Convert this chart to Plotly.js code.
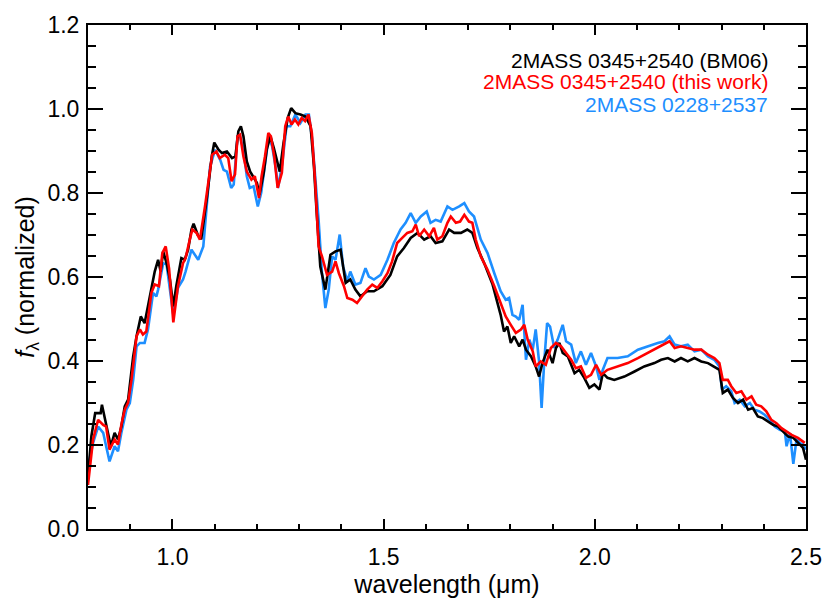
<!DOCTYPE html>
<html>
<head>
<meta charset="utf-8">
<script src="https://cdn.plot.ly/plotly-3.0.1.min.js"></script>
<style>
  html, body { margin: 0; padding: 0; background: #fff; }
  #chart { width: 830px; height: 600px; }
</style>
</head>
<body>
<div id="chart"></div>
<script>
// ---- data ----
var seriesNames = ["2MASS 0345+2540 (BM06)", "2MASS 0345+2540 (this work)", "2MASS 0228+2537"];
var seriesColors = ["#000000", "#ff0000", "#1e8fff"];

var waveBM06 = [0.800,0.808,0.817,0.830,0.833,0.840,0.847,0.854,0.863,0.871,0.879,0.887,0.895,0.907,0.915,0.925,0.934,0.946,0.958,0.966,0.972,0.978,0.986,0.994,1.002,1.009,1.021,1.029,1.037,1.045,1.050,1.060,1.068,1.082,1.093,1.099,1.109,1.117,1.129,1.141,1.149,1.156,1.162,1.168,1.176,1.184,1.192,1.200,1.206,1.216,1.223,1.232,1.240,1.248,1.254,1.263,1.273,1.281,1.291,1.303,1.315,1.327,1.335,1.341,1.350,1.362,1.374,1.386,1.398,1.410,1.421,1.433,1.445,1.461,1.477,1.497,1.516,1.532,1.548,1.564,1.580,1.596,1.611,1.623,1.639,1.655,1.667,1.683,1.698,1.710,1.722,1.738,1.758,1.777,1.785,1.793,1.801,1.809,1.821,1.829,1.837,1.849,1.860,1.868,1.876,1.888,1.900,1.908,1.916,1.924,1.936,1.952,1.963,1.975,1.987,1.999,2.011,2.019,2.030,2.046,2.070,2.094,2.117,2.141,2.157,2.173,2.189,2.204,2.220,2.236,2.252,2.268,2.283,2.295,2.303,2.315,2.327,2.339,2.351,2.363,2.374,2.386,2.398,2.410,2.422,2.434,2.446,2.458,2.470,2.481,2.493,2.500];
var fluxBM06 = [0.125,0.221,0.276,0.276,0.296,0.260,0.225,0.197,0.229,0.213,0.244,0.292,0.308,0.411,0.459,0.506,0.490,0.554,0.613,0.641,0.613,0.661,0.633,0.594,0.530,0.578,0.645,0.641,0.665,0.713,0.727,0.700,0.690,0.792,0.887,0.920,0.903,0.895,0.899,0.883,0.887,0.947,0.959,0.935,0.875,0.851,0.836,0.824,0.796,0.848,0.903,0.935,0.907,0.871,0.851,0.919,0.979,1.002,0.990,0.987,0.982,0.959,0.863,0.760,0.625,0.570,0.653,0.661,0.665,0.586,0.594,0.570,0.554,0.566,0.566,0.578,0.605,0.649,0.669,0.693,0.705,0.689,0.697,0.681,0.685,0.713,0.705,0.705,0.713,0.705,0.669,0.633,0.582,0.510,0.470,0.482,0.443,0.459,0.435,0.451,0.427,0.411,0.387,0.363,0.395,0.427,0.395,0.431,0.443,0.419,0.411,0.371,0.379,0.360,0.336,0.344,0.332,0.371,0.360,0.355,0.363,0.375,0.387,0.395,0.403,0.407,0.399,0.407,0.399,0.407,0.399,0.395,0.387,0.379,0.324,0.332,0.312,0.300,0.308,0.284,0.288,0.268,0.264,0.256,0.248,0.244,0.232,0.220,0.217,0.205,0.193,0.165];

var waveThis = [0.800,0.812,0.824,0.836,0.843,0.851,0.863,0.871,0.879,0.887,0.895,0.903,0.915,0.923,0.930,0.938,0.950,0.958,0.968,0.976,0.984,0.992,1.002,1.013,1.025,1.031,1.041,1.047,1.057,1.065,1.077,1.089,1.094,1.104,1.112,1.124,1.132,1.140,1.148,1.154,1.160,1.168,1.176,1.187,1.195,1.205,1.211,1.219,1.227,1.233,1.241,1.249,1.259,1.267,1.274,1.282,1.290,1.298,1.306,1.314,1.322,1.330,1.338,1.346,1.354,1.366,1.378,1.386,1.394,1.406,1.414,1.426,1.437,1.449,1.461,1.473,1.485,1.497,1.509,1.520,1.532,1.544,1.556,1.568,1.576,1.584,1.596,1.608,1.619,1.627,1.639,1.651,1.659,1.671,1.681,1.691,1.702,1.710,1.718,1.730,1.746,1.762,1.777,1.789,1.801,1.813,1.825,1.833,1.841,1.853,1.860,1.872,1.884,1.896,1.908,1.920,1.932,1.944,1.955,1.967,1.979,1.991,2.003,2.015,2.030,2.054,2.078,2.102,2.125,2.149,2.165,2.177,2.189,2.204,2.220,2.236,2.252,2.268,2.283,2.295,2.303,2.315,2.323,2.335,2.347,2.359,2.371,2.382,2.394,2.406,2.418,2.430,2.442,2.454,2.466,2.481,2.497];
var fluxThis = [0.105,0.213,0.260,0.248,0.244,0.189,0.213,0.201,0.248,0.284,0.301,0.355,0.459,0.475,0.463,0.470,0.562,0.582,0.578,0.657,0.673,0.620,0.492,0.578,0.633,0.645,0.689,0.713,0.705,0.689,0.768,0.863,0.891,0.899,0.883,0.891,0.883,0.828,0.844,0.935,0.939,0.887,0.851,0.832,0.840,0.788,0.840,0.887,0.943,0.935,0.887,0.812,0.848,0.959,0.982,0.963,0.975,0.963,0.979,0.971,0.987,0.943,0.824,0.673,0.649,0.605,0.613,0.637,0.609,0.578,0.550,0.546,0.538,0.554,0.570,0.582,0.574,0.590,0.609,0.637,0.681,0.693,0.705,0.709,0.725,0.697,0.713,0.697,0.717,0.689,0.697,0.729,0.744,0.729,0.732,0.748,0.732,0.729,0.689,0.649,0.617,0.578,0.536,0.506,0.486,0.467,0.475,0.486,0.451,0.423,0.387,0.399,0.391,0.431,0.443,0.435,0.419,0.403,0.383,0.387,0.360,0.367,0.391,0.367,0.379,0.387,0.395,0.407,0.419,0.431,0.439,0.447,0.431,0.435,0.431,0.427,0.427,0.415,0.407,0.395,0.355,0.355,0.340,0.324,0.328,0.308,0.316,0.296,0.292,0.280,0.260,0.252,0.240,0.232,0.224,0.217,0.205];

var wave0228 = [0.800,0.812,0.824,0.836,0.843,0.851,0.863,0.871,0.879,0.891,0.899,0.907,0.915,0.923,0.934,0.942,0.954,0.962,0.966,0.978,0.986,1.002,1.013,1.025,1.031,1.045,1.061,1.073,1.089,1.101,1.113,1.121,1.129,1.139,1.145,1.154,1.160,1.168,1.176,1.183,1.192,1.202,1.210,1.220,1.228,1.236,1.244,1.250,1.260,1.270,1.279,1.291,1.303,1.315,1.323,1.331,1.340,1.346,1.354,1.362,1.370,1.378,1.386,1.396,1.404,1.414,1.421,1.433,1.445,1.457,1.465,1.477,1.493,1.509,1.524,1.540,1.552,1.564,1.576,1.588,1.602,1.611,1.623,1.635,1.651,1.663,1.679,1.691,1.702,1.714,1.730,1.746,1.762,1.777,1.789,1.797,1.805,1.813,1.821,1.829,1.837,1.845,1.853,1.860,1.868,1.874,1.880,1.887,1.894,1.904,1.912,1.924,1.932,1.944,1.955,1.967,1.979,1.991,2.003,2.011,2.019,2.030,2.054,2.078,2.102,2.125,2.149,2.165,2.177,2.189,2.204,2.220,2.236,2.252,2.268,2.283,2.295,2.301,2.311,2.323,2.331,2.343,2.355,2.367,2.378,2.390,2.402,2.414,2.426,2.438,2.450,2.454,2.462,2.470,2.478,2.485,2.493,2.500];
var flux0228 = [0.149,0.205,0.244,0.229,0.197,0.161,0.197,0.185,0.229,0.284,0.300,0.355,0.435,0.443,0.443,0.475,0.562,0.554,0.570,0.633,0.630,0.510,0.574,0.594,0.613,0.665,0.641,0.673,0.863,0.903,0.879,0.855,0.851,0.812,0.820,0.935,0.935,0.903,0.840,0.812,0.816,0.768,0.800,0.871,0.935,0.911,0.863,0.812,0.871,0.959,0.959,0.987,0.967,0.987,0.987,0.927,0.820,0.736,0.609,0.526,0.570,0.649,0.641,0.701,0.625,0.590,0.613,0.582,0.586,0.621,0.601,0.594,0.605,0.641,0.681,0.713,0.729,0.752,0.729,0.744,0.756,0.729,0.736,0.732,0.768,0.760,0.768,0.776,0.756,0.744,0.689,0.657,0.609,0.566,0.546,0.550,0.510,0.506,0.498,0.534,0.403,0.451,0.427,0.475,0.399,0.288,0.395,0.490,0.482,0.431,0.451,0.486,0.447,0.439,0.395,0.423,0.391,0.419,0.387,0.355,0.379,0.407,0.407,0.411,0.427,0.435,0.443,0.447,0.459,0.439,0.435,0.439,0.423,0.427,0.411,0.403,0.387,0.332,0.340,0.328,0.300,0.308,0.292,0.300,0.284,0.280,0.272,0.260,0.244,0.236,0.232,0.197,0.228,0.155,0.217,0.205,0.201,0.189];

var xTickVals = [1.0, 1.5, 2.0, 2.5];
var yTickVals = [0.0, 0.2, 0.4, 0.6, 0.8, 1.0, 1.2];

// ---- chart ----
var FONT = '"Liberation Sans", Arial, Helvetica, sans-serif';

function trace(x, y, color, name) {
  return { x: x, y: y, type: 'scatter', mode: 'lines', name: name,
           line: { color: color, width: 2.6 }, hoverinfo: 'skip' };
}

var data = [
  trace(wave0228, flux0228, seriesColors[2], seriesNames[2]),
  trace(waveBM06, fluxBM06, seriesColors[0], seriesNames[0]),
  trace(waveThis, fluxThis, seriesColors[1], seriesNames[1])
];

var legendY = [0.929, 0.887, 0.843];
var annotations = seriesNames.map(function (n, i) {
  return { text: n, xref: 'paper', yref: 'paper', x: 0.950, y: legendY[i],
           xanchor: 'right', yanchor: 'middle', showarrow: false,
           font: { family: FONT, size: 21, color: seriesColors[i] } };
});

var layout = {
  width: 830, height: 600,
  margin: { l: 88, r: 24, t: 25, b: 71, pad: 0 },
  paper_bgcolor: '#ffffff', plot_bgcolor: '#ffffff',
  showlegend: false,
  font: { family: FONT, color: '#000' },
  xaxis: {
    range: [0.8, 2.5], autorange: false,
    tickmode: 'array', tickvals: xTickVals, tickformat: '.1f',
    ticks: 'inside', ticklen: 10, tickwidth: 2, tickcolor: '#000',
    minor: { dtick: 0.1, tick0: 0, ticks: 'inside', ticklen: 5, tickwidth: 2, tickcolor: '#000', showgrid: false },
    showline: true, linecolor: '#000', linewidth: 2, mirror: 'ticks',
    showgrid: false, zeroline: false,
    tickfont: { family: FONT, size: 23, color: '#000' },
    ticklabelstandoff: 6,
    title: { text: 'wavelength (μm)', font: { family: FONT, size: 25, color: '#000' }, standoff: 2 },
    automargin: false
  },
  yaxis: {
    range: [0, 1.2], autorange: false,
    tickmode: 'array', tickvals: yTickVals, tickformat: '.1f',
    ticks: 'inside', ticklen: 15, tickwidth: 2, tickcolor: '#000',
    minor: { dtick: 0.05, tick0: 0, ticks: 'inside', ticklen: 8, tickwidth: 2, tickcolor: '#000', showgrid: false },
    showline: true, linecolor: '#000', linewidth: 2, mirror: 'ticks',
    showgrid: false, zeroline: false,
    tickfont: { family: FONT, size: 23, color: '#000' },
    ticklabelstandoff: 2,
    title: { text: '<i>f</i><sub>λ</sub> (normalized)', font: { family: FONT, size: 25, color: '#000' }, standoff: 6 },
    automargin: false
  },
  annotations: annotations
};

Plotly.newPlot('chart', data, layout, { staticPlot: true, displayModeBar: false });
</script>
</body>
</html>
